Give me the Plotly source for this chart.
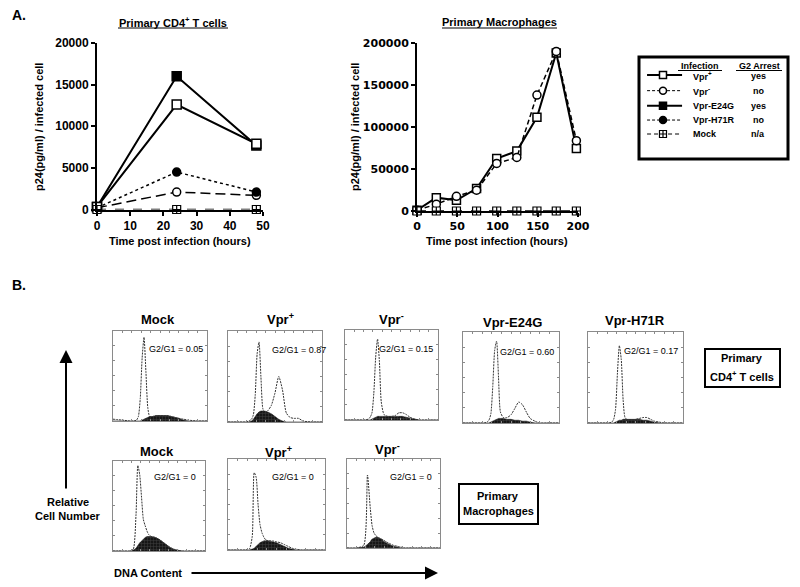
import plotly.graph_objects as go

W, H = 800, 587
# the page body adds a small offset; compensate so marks land where intended
OX, OY = 8, 8

# ---------------- Panel A data ----------------
cd4_time = [0, 24, 48]
cd4_vpr_plus = [300, 12600, 7900]
cd4_vpr_minus = [200, 2100, 1700]
cd4_e24g = [300, 16000, 7700]
cd4_h71r = [200, 4500, 2100]
cd4_mock = [0, 0, 0]

mac_time = [0, 24, 49, 74, 99, 124, 149, 173, 198]
mac_vpr_plus = [1000, 15900, 12700, 26700, 62500, 71300, 111500, 188000, 74500]
mac_vpr_minus = [1000, 8000, 17500, 24700, 56600, 63700, 138000, 190000, 83700]
mac_mock = [0, 0, 0, 0, 0, 0, 0, 0, 0]

cd4_ticks_x = [0, 10, 20, 30, 40, 50]
cd4_ticks_y = [0, 5000, 10000, 15000, 20000]
mac_ticks_x = [0, 50, 100, 150, 200]
mac_ticks_y = [0, 50000, 100000, 150000, 200000]

legend_names = ["Vpr<sup>+</sup>", "Vpr<sup>-</sup>", "Vpr-E24G", "Vpr-H71R", "Mock"]
legend_g2 = ["yes", "no", "yes", "no", "n/a"]

# ---------------- Panel B data (DNA content histograms, % of panel height) ----------------
hist_x = [0, 10, 18, 22, 25, 27, 29, 31, 33, 35, 37, 39, 42, 46, 50, 54, 58, 62, 66, 70, 75, 80, 90, 100]

t_mock_line = [2, 1, 0, 0, 1, 5, 25, 70, 93, 55, 15, 5, 5, 6, 6, 6, 6, 5, 4, 3, 2, 1, 0, 0]
t_mock_fill = [0, 0, 0, 0, 0, 0, 0, 1, 2, 3, 4, 5, 5, 6, 6, 6, 6, 5, 4, 3, 1, 0, 0, 0]
t_vprp_line = [0, 0, 0, 1, 3, 8, 30, 75, 88, 50, 15, 10, 12, 18, 32, 50, 35, 10, 5, 4, 4, 1, 0, 0]
t_vprp_fill = [0, 0, 0, 0, 1, 3, 6, 9, 11, 12, 12, 12, 11, 9, 6, 3, 1, 0, 0, 0, 0, 0, 0, 0]
t_vprm_line = [0, 0, 0, 0, 1, 3, 8, 30, 70, 90, 65, 20, 6, 4, 4, 5, 8, 8, 6, 3, 1, 0, 0, 0]
t_vprm_fill = [0, 0, 0, 0, 0, 0, 1, 2, 3, 4, 4, 4, 4, 4, 4, 4, 4, 4, 3, 2, 1, 0, 0, 0]
t_e24g_line = [0, 0, 0, 0, 1, 3, 10, 40, 80, 90, 50, 12, 6, 6, 9, 16, 23, 20, 12, 5, 2, 0, 0, 0]
t_e24g_fill = [0, 0, 0, 0, 0, 0, 1, 2, 3, 4, 5, 5, 5, 4, 4, 3, 3, 2, 2, 1, 0, 0, 0, 0]
t_h71r_line = [0, 0, 0, 0, 1, 4, 15, 55, 85, 70, 25, 6, 3, 3, 4, 5, 6, 6, 4, 2, 1, 0, 0, 0]
t_h71r_fill = [0, 0, 0, 0, 0, 0, 1, 2, 3, 3, 4, 4, 4, 4, 4, 4, 3, 3, 2, 1, 0, 0, 0, 0]

m_mock_line = [0, 0, 0, 2, 40, 95, 85, 60, 35, 28, 22, 18, 16, 15, 13, 10, 7, 4, 2, 1, 0, 0, 0, 0]
m_mock_fill = [0, 0, 0, 1, 3, 6, 9, 11, 13, 15, 16, 16, 16, 15, 13, 10, 7, 4, 2, 1, 0, 0, 0, 0]
m_vprp_line = [0, 0, 0, 1, 15, 85, 80, 50, 28, 19, 14, 11, 10, 10, 9, 8, 6, 4, 2, 1, 0, 0, 0, 0]
m_vprp_fill = [0, 0, 0, 0, 1, 2, 4, 6, 8, 9, 10, 10, 10, 9, 8, 6, 4, 2, 1, 0, 0, 0, 0, 0]
m_vprm_line = [0, 0, 3, 82, 45, 25, 17, 14, 12, 11, 10, 9, 7, 5, 3, 2, 1, 0, 0, 0, 0, 0, 0, 0]
m_vprm_fill = [0, 0, 1, 4, 7, 10, 11, 12, 12, 11, 10, 8, 6, 4, 2, 1, 0, 0, 0, 0, 0, 0, 0, 0]

hist_titles = ["Mock", "Vpr<sup>+</sup>", "Vpr<sup>-</sup>", "Vpr-E24G", "Vpr-H71R",
               "Mock", "Vpr<sup>+</sup>", "Vpr<sup>-</sup>"]
hist_ratios = ["G2/G1 = 0.05", "G2/G1 = 0.87", "G2/G1 = 0.15", "G2/G1 = 0.60", "G2/G1 = 0.17",
               "G2/G1 = 0", "G2/G1 = 0", "G2/G1 = 0"]
hist_lines = [t_mock_line, t_vprp_line, t_vprm_line, t_e24g_line, t_h71r_line,
              m_mock_line, m_vprp_line, m_vprm_line]
hist_fills = [t_mock_fill, t_vprp_fill, t_vprm_fill, t_e24g_fill, t_h71r_fill,
              m_mock_fill, m_vprp_fill, m_vprm_fill]

# ---------------- layout geometry (pixels) ----------------
hist_boxes = [(113, 331, 207, 421), (228, 331, 322, 422), (345, 330, 438, 420),
              (463, 332, 559, 423), (588, 332, 683, 423),
              (113, 461, 205, 551), (228, 459, 325, 550), (347, 459, 440, 548)]
hist_title_pos = [(158, 319), (280, 319), (391, 319), (512, 322), (635, 320),
                  (157, 451), (278, 452), (387, 449)]
hist_ratio_pos = [(147, 349), (270, 350), (377, 349), (498, 352), (622, 351),
                  (152, 477), (270, 477), (388, 477)]


def px(x):
    return (x - OX) / W


def py(y):
    return 1 - (y - OY) / H


BOLD = dict(family="Liberation Sans, Arial, sans-serif", color="black", weight="bold")
REG = dict(family="Liberation Sans, Arial, sans-serif", color="black")

fig = go.Figure()

# ---- Panel A left: CD4 T cells ----
sq_open = dict(symbol="square", color="white", size=9, line=dict(color="black", width=1.5))
sq_fill = dict(symbol="square", color="black", size=9, line=dict(color="black", width=1.5))
ci_open = dict(symbol="circle", color="white", size=8, line=dict(color="black", width=1.5))
ci_fill = dict(symbol="circle", color="black", size=8, line=dict(color="black", width=1.5))
sq_cross = dict(symbol="square-cross", color="white", size=8, line=dict(color="black", width=1.2))

fig.add_trace(go.Scatter(x=cd4_time, y=cd4_vpr_minus, mode="lines+markers", xaxis="x", yaxis="y",
                         line=dict(color="black", width=1.5, dash="10px,5px"), marker=ci_open, cliponaxis=False))
fig.add_trace(go.Scatter(x=cd4_time, y=cd4_h71r, mode="lines+markers", xaxis="x", yaxis="y",
                         line=dict(color="black", width=1.5, dash="3px,3px"), marker=ci_fill, cliponaxis=False))
fig.add_trace(go.Scatter(x=cd4_time, y=cd4_e24g, mode="lines+markers", xaxis="x", yaxis="y",
                         line=dict(color="black", width=2), marker=sq_fill, cliponaxis=False))
fig.add_trace(go.Scatter(x=cd4_time, y=cd4_vpr_plus, mode="lines+markers", xaxis="x", yaxis="y",
                         line=dict(color="black", width=2), marker=sq_open, cliponaxis=False))
fig.add_trace(go.Scatter(x=cd4_time, y=cd4_mock, mode="lines+markers", xaxis="x", yaxis="y",
                         line=dict(color="black", width=1.5, dash="dash"), marker=sq_cross, cliponaxis=False))

# ---- Panel A right: macrophages ----
sq_open2 = dict(sq_open, size=8)
ci_open2 = dict(ci_open, size=8)
fig.add_trace(go.Scatter(x=mac_time, y=mac_vpr_plus, mode="lines+markers", xaxis="x2", yaxis="y2",
                         line=dict(color="black", width=2), marker=sq_open2, cliponaxis=False))
fig.add_trace(go.Scatter(x=mac_time, y=mac_vpr_minus, mode="lines+markers", xaxis="x2", yaxis="y2",
                         line=dict(color="black", width=1.5, dash="5px,3px"), marker=ci_open2, cliponaxis=False))
fig.add_trace(go.Scatter(x=mac_time, y=mac_mock, mode="lines+markers", xaxis="x2", yaxis="y2",
                         line=dict(color="black", width=1.5, dash="dash"), marker=sq_cross, cliponaxis=False))

# ---- Legend samples ----
leg_rows = [0.176, 0.33, 0.477, 0.618, 0.755]
leg_dash = ["solid", "3px,2px", "solid", "3px,2px", "4px,3px"]
leg_width = [2, 1, 2, 1, 1]
leg_markers = [sq_open, ci_open, sq_fill, ci_fill, sq_cross]
for r, d, w, m in zip(leg_rows, leg_dash, leg_width, leg_markers):
    fig.add_trace(go.Scatter(x=[0.054, 0.289], y=[r, r], mode="lines", xaxis="x11", yaxis="y11",
                             line=dict(color="black", width=w, dash=d)))
    fig.add_trace(go.Scatter(x=[0.161], y=[r], mode="markers", xaxis="x11", yaxis="y11",
                             marker=dict(m, size=7)))

# ---- Panel B histograms ----
for i in range(8):
    ax = str(i + 3)
    fig.add_trace(go.Scatter(x=hist_x, y=hist_fills[i], mode="lines", xaxis="x" + ax, yaxis="y" + ax,
                             line=dict(color="#111", width=0.6, shape="spline", smoothing=0.6),
                             fill="tozeroy", fillcolor="#1e1e1e",
                             fillpattern=dict(shape="+", fgcolor="#777", bgcolor="#161616",
                                              size=3, solidity=0.25)))
    fig.add_trace(go.Scatter(x=hist_x, y=hist_lines[i], mode="lines", xaxis="x" + ax, yaxis="y" + ax,
                             line=dict(color="#333", width=1, dash="2px,1px", shape="spline", smoothing=0.6)))

# ---------------- axes ----------------
axis_common = dict(showgrid=False, zeroline=False, showline=True, linecolor="black",
                   ticks="outside", tickcolor="black", fixedrange=True, automargin=False,
                   tickformat="d")
layout = dict(
    width=W, height=H, margin=dict(l=0, r=0, t=0, b=0, pad=0, autoexpand=False),
    paper_bgcolor="white", plot_bgcolor="white", showlegend=False,
    xaxis=dict(axis_common, domain=[px(97), px(263)], range=[0, 50], tickvals=cd4_ticks_x,
               linewidth=2, ticklen=4, tickwidth=1.5, anchor="y",
               tickfont=dict(BOLD, size=12)),
    yaxis=dict(axis_common, domain=[py(209.5), py(43)], range=[0, 20000], tickvals=cd4_ticks_y,
               linewidth=2, ticklen=4, tickwidth=1.5, anchor="x",
               tickfont=dict(BOLD, size=12)),
    xaxis2=dict(axis_common, domain=[px(417), px(578)], range=[0, 200], tickvals=mac_ticks_x,
                linewidth=2, ticklen=4, tickwidth=1.5, anchor="y2",
                tickfont=dict(BOLD, size=11, family="DejaVu Sans, sans-serif")),
    yaxis2=dict(axis_common, domain=[py(211), py(43)], range=[0, 200000], tickvals=mac_ticks_y,
                linewidth=2, ticklen=4, tickwidth=1.5, anchor="x2",
                tickfont=dict(BOLD, size=11, family="DejaVu Sans, sans-serif")),
    xaxis11=dict(domain=[px(639), px(788)], range=[0, 1], visible=False, anchor="y11", fixedrange=True),
    yaxis11=dict(domain=[py(159), py(57)], range=[1, 0], visible=False, anchor="x11", fixedrange=True),
)
for i, (x0, y0, x1, y1) in enumerate(hist_boxes):
    ax = str(i + 3)
    hcommon = dict(showgrid=False, zeroline=False, showline=True, mirror="ticks",
                   linecolor="#8a8a8a", linewidth=1, ticks="inside", ticklen=2, tickcolor="#8a8a8a",
                   showticklabels=False, range=[0, 100], fixedrange=True, automargin=False)
    layout["xaxis" + ax] = dict(hcommon, domain=[px(x0), px(x1)], anchor="y" + ax, dtick=10)
    layout["yaxis" + ax] = dict(hcommon, domain=[py(y1), py(y0)], anchor="x" + ax, dtick=16.7)
fig.update_layout(**layout)

# ---------------- annotations ----------------
ann = []


def text(x, y, s, size, bold=True, xanchor="center", angle=0):
    ann.append(dict(x=px(x), y=py(y), xref="paper", yref="paper", text=s, showarrow=False,
                    xanchor=xanchor, yanchor="middle", textangle=angle,
                    font=dict(BOLD if bold else REG, size=size)))


text(10, 15, "A.", 14, xanchor="left")
text(10, 285, "B.", 14, xanchor="left")
text(173, 22, "Primary CD4<sup>+</sup> T cells", 11)
text(499, 22, "Primary Macrophages", 11)
text(39, 127, "p24(pg/ml) / infected cell", 11, angle=-90)
text(355, 127, "p24(pg/ml) / infected cell", 11, angle=-90)
text(180, 241, "Time post infection (hours)", 11)
text(497, 241, "Time post infection (hours)", 11)

# legend text
text(700, 65.5, "Infection", 9)
text(759, 65.5, "G2 Arrest", 9)
leg_y_px = [76, 90.7, 105.7, 120, 134]
for name, g2, yy in zip(legend_names, legend_g2, leg_y_px):
    text(691, yy, name, 9, xanchor="left")
    text(758, yy, g2, 9)

for t, (tx, ty) in zip(hist_titles, hist_title_pos):
    text(tx, ty, t, 13)
for r, (rx, ry) in zip(hist_ratios, hist_ratio_pos):
    text(rx, ry, r, 9, bold=False, xanchor="left")

text(742, 358, "Primary", 11)
text(742, 376, "CD4<sup>+</sup> T cells", 11)
text(498, 496, "Primary", 11)
text(498, 511, "Macrophages", 11)
text(68, 502, "Relative", 11)
text(68, 516, "Cell Number", 11)
text(112, 573, "DNA Content", 11, xanchor="left")

# arrows
ann.append(dict(x=px(66), y=py(350), xref="paper", yref="paper", ax=0, ay=140, text="",
                showarrow=True, arrowhead=2, arrowsize=1.3, arrowwidth=2, arrowcolor="black"))
ann.append(dict(x=px(438), y=py(573), xref="paper", yref="paper", ax=-248, ay=0, text="",
                showarrow=True, arrowhead=2, arrowsize=1.3, arrowwidth=2, arrowcolor="black"))
fig.update_layout(annotations=ann)

# ---------------- shapes ----------------
shapes = []


def line(x0, y0, x1, y1, w=1, color="black"):
    shapes.append(dict(type="line", xref="paper", yref="paper", x0=px(x0), y0=py(y0), x1=px(x1), y1=py(y1),
                       line=dict(color=color, width=w)))


def rect(x0, y0, x1, y1, w):
    shapes.append(dict(type="rect", xref="paper", yref="paper", x0=px(x0), y0=py(y0), x1=px(x1), y1=py(y1),
                       line=dict(color="black", width=w), fillcolor="rgba(0,0,0,0)"))


line(118, 28, 228, 28)
line(442, 28, 557, 28)
line(678, 70.5, 722, 70.5)
line(736, 70.5, 782, 70.5)
rect(639, 57, 788, 159, 3)
rect(705, 349, 780, 387, 2)
rect(459, 484, 538, 524, 2)
line(796, 160, 796, 440, 1.5)
fig.update_layout(shapes=shapes)

fig.write_html("out.html")
